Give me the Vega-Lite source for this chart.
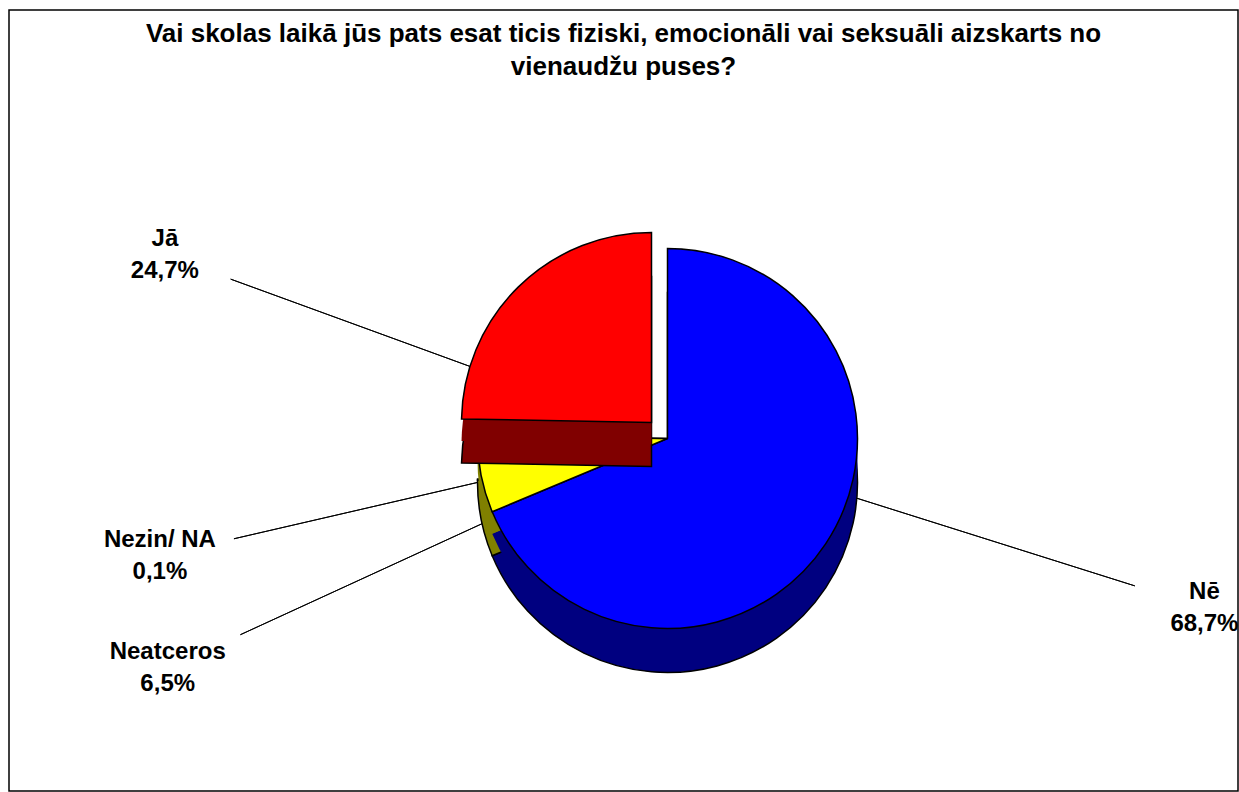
{
  "$schema": "https://vega.github.io/schema/vega-lite/v6.json",
  "width": 1239,
  "height": 792,
  "autosize": {"type": "fit", "contains": "padding"},
  "padding": {"left": 8, "top": 9, "right": 0, "bottom": 0},
  "background": "white",
  "config": {"view": {"stroke": null}, "font": "Liberation Sans"},
  "title": {
    "text": ["Vai skolas laikā jūs pats esat ticis fiziski, emocionāli vai seksuāli aizskarts no", "vienaudžu puses?"],
    "font": "Liberation Sans",
    "fontSize": 26,
    "fontWeight": "bold",
    "color": "black",
    "anchor": "middle",
    "baseline": "top",
    "offset": -71,
    "lineHeight": 33
  },
  "data": {
    "values": [
      {"cat": "Nē", "value": 68.7, "order": 1},
      {"cat": "Neatceros", "value": 6.5, "order": 2},
      {"cat": "Nezin/ NA", "value": 0.1, "order": 3},
      {"cat": "Jā", "value": 24.7, "order": 4}
    ]
  },
  "transform": [
    {"window": [{"op": "sum", "field": "value", "as": "end"}], "sort": [{"field": "order"}], "frame": [null, 0]},
    {"calculate": "datum.end - datum.value", "as": "start"},
    {"calculate": "datum.end - datum.value / 2", "as": "mid"},
    {"calculate": "[datum.cat, replace(format(datum.value, '.1f'), '.', ',') + '%']", "as": "label"}
  ],
  "layer": [
    {
      "data": {"values": [{"frame": "border"}]},
      "transform": [],
      "mark": {"type": "rect", "fill": null, "stroke": "black", "strokeWidth": 1.5},
      "encoding": {
        "x": {"value": 0},
        "x2": {"value": "width"},
        "y": {"value": 0},
        "y2": {"value": "height"}
      }
    },
    {
      "transform": [{"filter": "datum.cat === 'Jā'"}],
      "mark": {"type": "arc", "filled": false, "stroke": "black", "strokeWidth": 1, "radius": 465, "radius2": 150, "thetaOffset": -0.445, "theta2Offset": -0.445, "xOffset": 44, "yOffset": 38},
      "encoding": {
        "theta": {"field": "mid", "type": "quantitative", "scale": {"domain": [0, 100]}, "stack": null},
        "theta2": {"field": "mid"}
      }
    },
    {
      "transform": [{"filter": "datum.cat === 'Nezin/ NA'"}],
      "mark": {"type": "arc", "filled": false, "stroke": "black", "strokeWidth": 1, "radius": 445, "radius2": 150, "thetaOffset": -0.243, "theta2Offset": -0.243, "xOffset": 44, "yOffset": 38},
      "encoding": {
        "theta": {"field": "mid", "type": "quantitative", "scale": {"domain": [0, 100]}, "stack": null},
        "theta2": {"field": "mid"}
      }
    },
    {
      "transform": [{"filter": "datum.cat === 'Neatceros'"}],
      "mark": {"type": "arc", "filled": false, "stroke": "black", "strokeWidth": 1, "radius": 470, "radius2": 150, "thetaOffset": -0.239, "theta2Offset": -0.239, "xOffset": 44, "yOffset": 38},
      "encoding": {
        "theta": {"field": "mid", "type": "quantitative", "scale": {"domain": [0, 100]}, "stack": null},
        "theta2": {"field": "mid"}
      }
    },
    {
      "transform": [{"filter": "datum.cat === 'Nē'"}],
      "mark": {"type": "arc", "filled": false, "stroke": "black", "strokeWidth": 1, "radius": 490, "radius2": 150, "thetaOffset": -0.282, "theta2Offset": -0.282, "xOffset": 44, "yOffset": 38},
      "encoding": {
        "theta": {"field": "mid", "type": "quantitative", "scale": {"domain": [0, 100]}, "stack": null},
        "theta2": {"field": "mid"}
      }
    },
    {
      "transform": [{"filter": "datum.cat !== 'Jā'"}],
      "mark": {"type": "arc", "radius": 190, "stroke": "black", "strokeWidth": 1.5, "xOffset": 44, "yOffset": 82},
      "encoding": {
        "theta": {"field": "start", "type": "quantitative", "scale": {"domain": [0, 100]}, "stack": null},
        "theta2": {"field": "end"},
        "fill": {"field": "cat", "type": "nominal", "legend": null, "scale": {"domain": ["Nē", "Neatceros", "Nezin/ NA", "Jā"], "range": ["#000080", "#808000", "#008080", "#800000"]}}
      }
    },
    {
      "transform": [{"filter": "datum.cat !== 'Jā'"}],
      "mark": {"type": "arc", "radius": 190, "strokeWidth": 0, "xOffset": 44, "yOffset": 60},
      "encoding": {
        "theta": {"field": "start", "type": "quantitative", "scale": {"domain": [0, 100]}, "stack": null},
        "theta2": {"field": "end"},
        "fill": {"field": "cat", "type": "nominal", "legend": null}
      }
    },
    {
      "transform": [{"filter": "datum.cat !== 'Jā'"}],
      "mark": {"type": "arc", "radius": 190, "stroke": "black", "strokeWidth": 1.5, "xOffset": 44, "yOffset": 38},
      "encoding": {
        "theta": {"field": "start", "type": "quantitative", "scale": {"domain": [0, 100]}, "stack": null},
        "theta2": {"field": "end"},
        "color": {"field": "cat", "type": "nominal", "legend": null, "scale": {"domain": ["Nē", "Neatceros", "Nezin/ NA", "Jā"], "range": ["#0000FF", "#FFFF00", "#00FFFF", "#FF0000"]}}
      }
    },
    {
      "transform": [{"filter": "datum.cat === 'Jā'"}],
      "mark": {"type": "arc", "radius": 190, "stroke": "black", "strokeWidth": 1.5, "xOffset": 28, "yOffset": 66},
      "encoding": {
        "theta": {"field": "start", "type": "quantitative", "scale": {"domain": [0, 100]}, "stack": null},
        "theta2": {"field": "end"},
        "fill": {"field": "cat", "type": "nominal", "legend": null}
      }
    },
    {
      "transform": [{"filter": "datum.cat === 'Jā'"}],
      "mark": {"type": "arc", "radius": 190, "strokeWidth": 0, "xOffset": 28, "yOffset": 44},
      "encoding": {
        "theta": {"field": "start", "type": "quantitative", "scale": {"domain": [0, 100]}, "stack": null},
        "theta2": {"field": "end"},
        "fill": {"field": "cat", "type": "nominal", "legend": null}
      }
    },
    {
      "transform": [{"filter": "datum.cat === 'Jā'"}],
      "mark": {"type": "arc", "radius": 190, "stroke": "black", "strokeWidth": 1.5, "xOffset": 28, "yOffset": 22},
      "encoding": {
        "theta": {"field": "start", "type": "quantitative", "scale": {"domain": [0, 100]}, "stack": null},
        "theta2": {"field": "end"},
        "color": {"field": "cat", "type": "nominal", "legend": null}
      }
    },
    {
      "transform": [{"filter": "datum.cat === 'Jā'"}],
      "mark": {"type": "text", "radius": 535, "thetaOffset": -0.445, "fontSize": 24, "fontWeight": "bold", "color": "black", "baseline": "middle", "lineHeight": 32, "xOffset": 44, "yOffset": 22},
      "encoding": {
        "theta": {"field": "mid", "type": "quantitative", "scale": {"domain": [0, 100]}, "stack": null},
        "text": {"field": "label"}
      }
    },
    {
      "transform": [{"filter": "datum.cat === 'Nezin/ NA'"}],
      "mark": {"type": "text", "radius": 521, "thetaOffset": -0.243, "fontSize": 24, "fontWeight": "bold", "color": "black", "baseline": "middle", "lineHeight": 32, "xOffset": 44, "yOffset": 22},
      "encoding": {
        "theta": {"field": "mid", "type": "quantitative", "scale": {"domain": [0, 100]}, "stack": null},
        "text": {"field": "label"}
      }
    },
    {
      "transform": [{"filter": "datum.cat === 'Neatceros'"}],
      "mark": {"type": "text", "radius": 550, "thetaOffset": -0.239, "fontSize": 24, "fontWeight": "bold", "color": "black", "baseline": "middle", "lineHeight": 32, "xOffset": 44, "yOffset": 22},
      "encoding": {
        "theta": {"field": "mid", "type": "quantitative", "scale": {"domain": [0, 100]}, "stack": null},
        "text": {"field": "label"}
      }
    },
    {
      "transform": [{"filter": "datum.cat === 'Nē'"}],
      "mark": {"type": "text", "radius": 563, "thetaOffset": -0.282, "fontSize": 24, "fontWeight": "bold", "color": "black", "baseline": "middle", "lineHeight": 32, "xOffset": 44, "yOffset": 22},
      "encoding": {
        "theta": {"field": "mid", "type": "quantitative", "scale": {"domain": [0, 100]}, "stack": null},
        "text": {"field": "label"}
      }
    }
  ]
}
